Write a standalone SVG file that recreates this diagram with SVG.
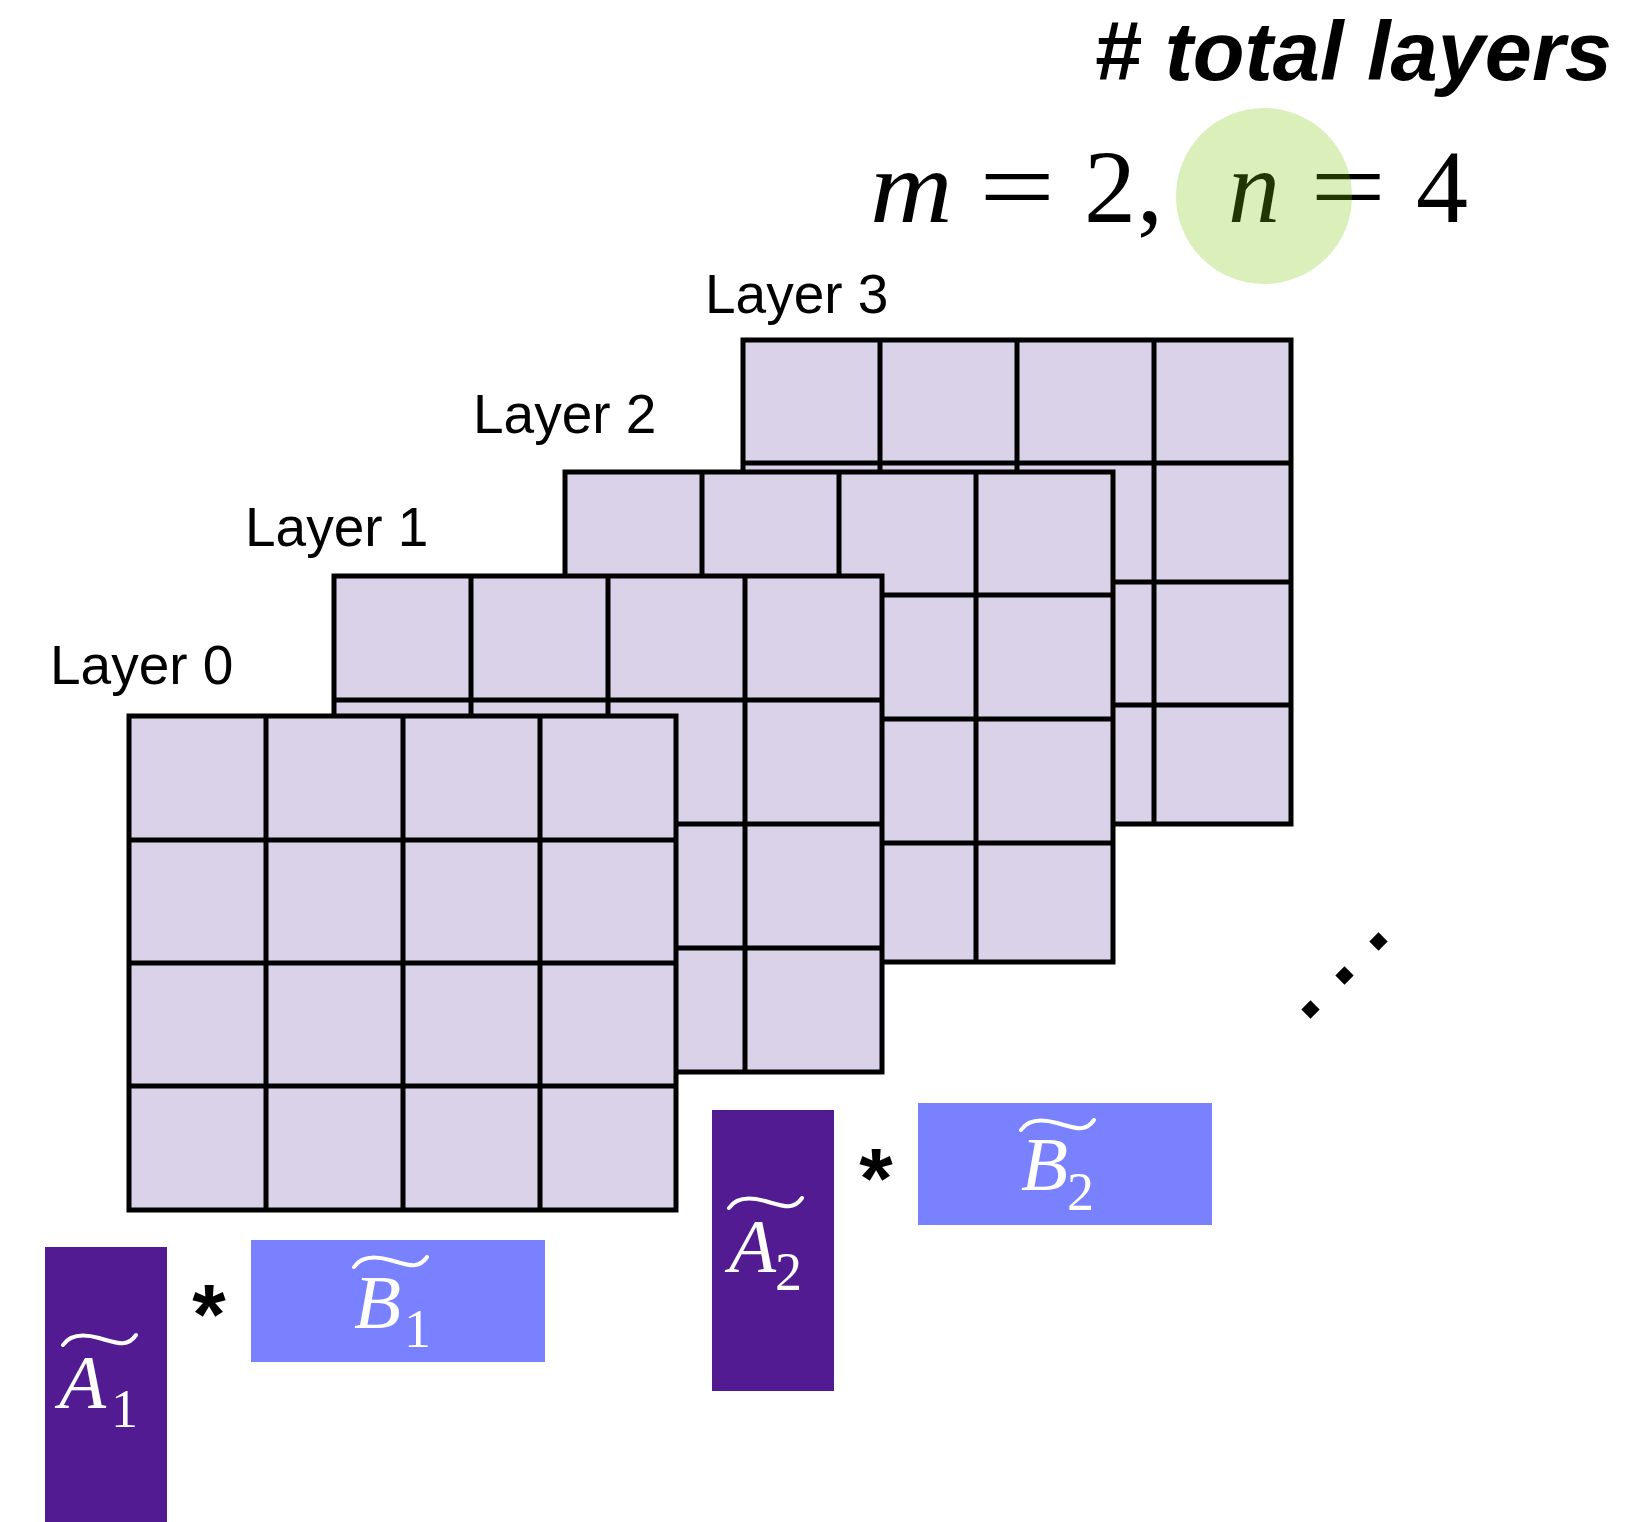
<svg xmlns="http://www.w3.org/2000/svg" xmlns:xlink="http://www.w3.org/1999/xlink" width="1646" height="1522" viewBox="0 0 1646 1522">
<style>
.cell{fill:#d9d2e9;stroke:none}
.grid{fill:none;stroke:#000;stroke-width:5;stroke-linecap:square}
.lbl{font-family:"Liberation Sans",Arial,sans-serif;font-size:55px;fill:#000}
.math{font-family:"Liberation Serif","Times New Roman",serif;font-size:104px;fill:#000}
.it{font-style:italic}
.mw{font-family:"Liberation Serif","Times New Roman",serif;fill:#fff;font-style:italic;font-size:77px}
.sub{font-family:"Liberation Serif","Times New Roman",serif;fill:#fff;font-size:54px}
.star{font-family:"Liberation Sans",Arial,sans-serif;font-weight:bold;font-size:86px;fill:#000}
.tl{fill:none;stroke:#fff;stroke-width:4;stroke-linecap:round}
</style>
<defs>
<path id="tilde" d="M0,12 C6,3 18,0 36,5 S64,15 73,2"/>
</defs>
<rect width="1646" height="1522" fill="#fff"/>

<g id="title">
<text x="1094" y="80" textLength="518" lengthAdjust="spacingAndGlyphs" style="font-family:'Liberation Sans',Arial,sans-serif;font-weight:bold;font-style:italic;font-size:84px"># total layers</text>
</g>

<g id="formula">
<text class="math it" transform="translate(870,222) scale(1.1,1)">m</text>
<text class="math" transform="translate(979,222) scale(1.3,1)">=</text>
<text class="math" x="1084" y="222">2</text>
<text class="math" x="1137" y="222">,</text>
<text class="math it" x="1228" y="222">n</text>
<text class="math" transform="translate(1310,222) scale(1.3,1)">=</text>
<text class="math" x="1416" y="222">4</text>
<circle cx="1264" cy="196" r="88" fill="#77c400" fill-opacity="0.27"/>
</g>

<g id="layer3">
<rect class="cell" x="743" y="340" width="548" height="484"/>
<path class="grid" d="M743,340H1291V824H743Z M880,340V824 M1017,340V824 M1154,340V824 M743,463H1291 M743,582H1291 M743,705H1291"/>
<text class="lbl" x="705" y="313">Layer 3</text>
</g>

<g id="layer2">
<rect class="cell" x="565" y="472" width="548" height="490"/>
<path class="grid" d="M565,472H1113V962H565Z M702,472V962 M839,472V962 M976,472V962 M565,595H1113 M565,719H1113 M565,843H1113"/>
<text class="lbl" x="473" y="433">Layer 2</text>
</g>

<g id="layer1">
<rect class="cell" x="334" y="576" width="548" height="496"/>
<path class="grid" d="M334,576H882V1072H334Z M471,576V1072 M608,576V1072 M745,576V1072 M334,700H882 M334,824H882 M334,948H882"/>
<text class="lbl" x="245" y="546">Layer 1</text>
</g>

<g id="layer0">
<rect class="cell" x="129" y="716" width="547" height="494"/>
<path class="grid" d="M129,716H676V1210H129Z M266,716V1210 M403,716V1210 M540,716V1210 M129,840H676 M129,963H676 M129,1086H676"/>
<text class="lbl" x="50" y="684">Layer 0</text>
</g>

<g id="ellipsis" fill="#000">
<rect x="1304" y="1003" width="13" height="13" transform="rotate(45 1310.5 1009.5)"/>
<rect x="1338" y="969" width="13" height="13" transform="rotate(45 1344.5 975.5)"/>
<rect x="1372" y="935" width="13" height="13" transform="rotate(45 1378.5 941.5)"/>
</g>

<g id="pair1">
<rect id="A1" x="45" y="1247" width="122" height="275" fill="#521b91"/>
<use xlink:href="#tilde" class="tl" transform="translate(63,1333)"/>
<text class="mw" x="59" y="1408">A</text>
<text class="sub" x="111" y="1427">1</text>
<text class="star" x="209" y="1344" text-anchor="middle">*</text>
<rect id="B1" x="251" y="1240" width="294" height="122" fill="#7a81ff"/>
<use xlink:href="#tilde" class="tl" transform="translate(354,1255)"/>
<text class="mw" x="354" y="1328">B</text>
<text class="sub" x="404" y="1347">1</text>
</g>

<g id="pair2">
<rect id="A2" x="712" y="1110" width="122" height="281" fill="#521b91"/>
<use xlink:href="#tilde" class="tl" transform="translate(729,1196)"/>
<text class="mw" x="729" y="1272">A</text>
<text class="sub" x="775" y="1290">2</text>
<text class="star" x="876" y="1208" text-anchor="middle">*</text>
<rect id="B2" x="918" y="1103" width="294" height="122" fill="#7a81ff"/>
<use xlink:href="#tilde" class="tl" transform="translate(1021,1118)"/>
<text class="mw" x="1021" y="1190">B</text>
<text class="sub" x="1067" y="1210">2</text>
</g>

<g id="connectors"/>
</svg>
